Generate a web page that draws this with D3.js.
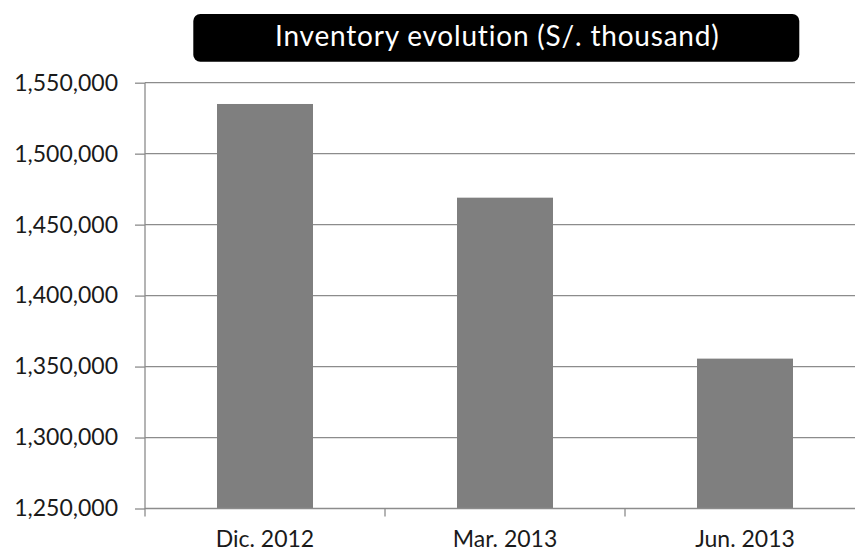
<!DOCTYPE html>
<html>
<head>
<meta charset="utf-8">
<script src="https://cdn.jsdelivr.net/npm/d3@7/dist/d3.min.js"></script>
<style>
  html, body { margin: 0; padding: 0; background: #ffffff; }
  svg { display: block; }
  text { font-family: Lato, "Open Sans", sans-serif; }
</style>
</head>
<body>
<svg id="chart" width="855" height="552"></svg>
<script>
// Inventory at period end, S/. thousand
const periods = ["Dic. 2012", "Mar. 2013", "Jun. 2013"];
const inventory = [1535000, 1469000, 1355600];
const yTicks = [1250000, 1300000, 1350000, 1400000, 1450000, 1500000, 1550000];
const titleText = "Inventory evolution (S/. thousand)";

const svg = d3.select("#chart");
const W = 855, H = 552;

const plot = { left: 145, right: 865, top: 82.7, bottom: 508.5 };

const x = d3.scaleBand()
  .domain(periods)
  .range([plot.left, plot.right])
  .paddingInner(0.6)
  .paddingOuter(0.3);

const y = d3.scaleLinear()
  .domain([1250000, 1550000])
  .range([plot.bottom, plot.top]);

const fmt = d3.format(",");

// clip everything to the visible canvas
svg.append("defs").append("clipPath").attr("id", "vis")
  .append("rect").attr("x", 0).attr("y", 0).attr("width", W).attr("height", H);

const g = svg.append("g").attr("clip-path", "url(#vis)");

// horizontal gridlines
g.append("g")
  .selectAll("line")
  .data(yTicks.filter(d => d !== 1250000))
  .join("line")
  .attr("x1", plot.left)
  .attr("x2", plot.right)
  .attr("y1", d => y(d))
  .attr("y2", d => y(d))
  .attr("stroke", "#8c8c8c")
  .attr("stroke-width", 1.3);

// bars
g.append("g")
  .selectAll("rect")
  .data(periods.map((p, i) => ({ p, v: inventory[i] })))
  .join("rect")
  .attr("x", d => x(d.p))
  .attr("width", x.bandwidth())
  .attr("y", d => y(d.v))
  .attr("height", d => y(1250000) - y(d.v))
  .attr("fill", "#7f7f7f");

// y axis
const yAxis = d3.axisLeft(y)
  .tickValues(yTicks)
  .tickFormat(fmt)
  .tickSize(10)
  .tickPadding(17);

const ya = g.append("g")
  .attr("transform", `translate(${plot.left},0)`)
  .call(yAxis);
ya.select(".domain").attr("stroke", "#8c8c8c").attr("stroke-width", 1.3)
  .attr("d", `M0,${plot.top}V${plot.bottom + 0.5}`);
ya.selectAll(".tick line").attr("stroke", "#8c8c8c").attr("stroke-width", 1.3);
ya.selectAll(".tick text")
  .attr("font-size", 23)
  .attr("fill", "#1a1a1a")
  .attr("font-family", "Lato, sans-serif");

// x axis with ticks at category boundaries
g.append("line")
  .attr("x1", plot.left).attr("x2", plot.right)
  .attr("y1", plot.bottom).attr("y2", plot.bottom)
  .attr("stroke", "#8c8c8c").attr("stroke-width", 1.3);

const step = x.step();
const gap = (step - x.bandwidth()) / 2;
const boundaries = periods.map(p => x(p) - gap)
  .concat([x(periods[periods.length - 1]) + x.bandwidth() + gap]);
g.append("g")
  .selectAll("line")
  .data(boundaries)
  .join("line")
  .attr("x1", d => d).attr("x2", d => d)
  .attr("y1", plot.bottom).attr("y2", plot.bottom + 8)
  .attr("stroke", "#8c8c8c").attr("stroke-width", 1.3);

g.append("g")
  .selectAll("text")
  .data(periods)
  .join("text")
  .attr("x", d => x(d) + x.bandwidth() / 2)
  .attr("y", 546.5)
  .attr("text-anchor", "middle")
  .attr("font-size", 23)
  .attr("fill", "#1a1a1a")
  .text(d => d);

// title banner
const tb = { x: 193.3, y: 14, w: 606, h: 47.7 };
svg.append("rect")
  .attr("x", tb.x).attr("y", tb.y)
  .attr("width", tb.w).attr("height", tb.h)
  .attr("rx", 7).attr("ry", 7)
  .attr("fill", "#000000");
svg.append("text")
  .attr("x", tb.x + tb.w / 2 + 1)
  .attr("y", 46)
  .attr("text-anchor", "middle")
  .attr("font-size", 28)
  .attr("letter-spacing", 0.8)
  .attr("fill", "#ffffff")
  .text(titleText);
</script>
</body>
</html>
